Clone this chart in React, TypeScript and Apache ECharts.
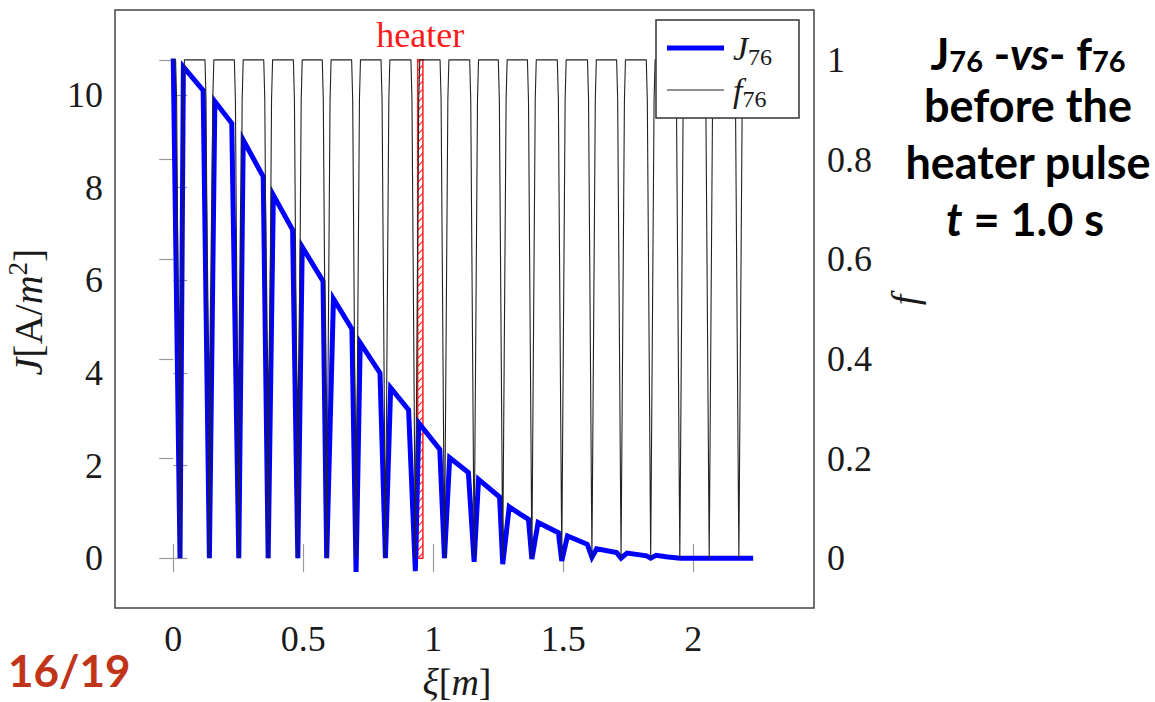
import React, { useEffect, useRef } from "react";
import * as echarts from "echarts";

// ---- data ----
const X_TICKS = [0, 0.5, 1, 1.5, 2];
const J_TICKS = [0, 2, 4, 6, 8, 10];
const F_TICKS = [0, 0.2, 0.4, 0.6, 0.8, 1];

const J_X = [
  0.0, 0.026, 0.039, 0.115, 0.139, 0.16, 0.225, 0.252, 0.269, 0.346, 0.365,
  0.385, 0.459, 0.479, 0.496, 0.576, 0.59, 0.616, 0.687, 0.703, 0.719, 0.795,
  0.816, 0.836, 0.905, 0.931, 0.944, 1.025, 1.043, 1.063, 1.135, 1.157, 1.174,
  1.255, 1.267, 1.292, 1.334, 1.366, 1.379, 1.403, 1.481, 1.494, 1.516, 1.592,
  1.61, 1.628, 1.705, 1.722, 1.745, 1.82, 1.836, 1.857, 1.895, 1.95, 2.23,
];
const J_Y = [
  10.79, 0.0, 10.61, 10.1, 0.0, 9.86, 9.39, 0.0, 9.03, 8.24, 0.0, 7.84, 7.09,
  0.0, 6.72, 5.98, 0.0, 5.6, 4.95, -0.3, 4.65, 4.0, 0.0, 3.68, 3.2, -0.28,
  2.92, 2.35, 0.0, 2.17, 1.85, -0.08, 1.7, 1.32, -0.13, 1.11, 0.95, 0.84,
  -0.02, 0.77, 0.55, -0.06, 0.48, 0.3, 0.02, 0.2, 0.12, 0.0, 0.11, 0.05, 0.0,
  0.06, 0.03, 0.0, 0.0,
];

const DIP_X = [
  0.026, 0.139, 0.252, 0.365, 0.479, 0.59, 0.703, 0.816, 0.931, 1.043, 1.157,
  1.267, 1.379, 1.494, 1.61, 1.722, 1.836, 1.948, 2.061, 2.175,
];
const F_DIP_DX = [-0.017, -0.013, 0, 0.013, 0.017];
const F_DIP_Y = [1, 0.92, 0, 0.92, 1];
const F_START: [number, number] = [0, 1];
const F_END: [number, number] = [2.23, 1];

const HEATER = [0.94, 0.96];

const SERIF = "Liberation Serif";
const SANS = "Lato";

function hatchCanvas() {
  const c = document.createElement("canvas");
  c.width = 8;
  c.height = 8;
  const ctx = c.getContext("2d");
  if (ctx) {
    ctx.strokeStyle = "#ff2020";
    ctx.lineWidth = 1.2;
    ctx.beginPath();
    ctx.moveTo(0, 8);
    ctx.lineTo(8, 0);
    ctx.stroke();
  }
  return c;
}

export default function App() {
  const ref = useRef<HTMLDivElement>(null);

  useEffect(() => {
    if (!ref.current) return;
    const chart = echarts.init(ref.current, null, { renderer: "svg" });

    const jData = J_X.map((x, i) => [x, J_Y[i]]);
    const fData: number[][] = [F_START];
    DIP_X.forEach((d) => {
      F_DIP_DX.forEach((dx, k) => fData.push([d + dx, F_DIP_Y[k]]));
    });
    fData.push(F_END);

    const tickStyle = { color: "#999", width: 1.2 };
    const labelStyle = {
      fontFamily: SERIF,
      fontSize: 36,
      color: "#1a1a1a",
    };

    const serifRich = (size: number) => ({
      i: { fontFamily: SERIF, fontStyle: "italic", fontSize: size, lineHeight: size + 8, fill: "#1a1a1a" },
      n: { fontFamily: SERIF, fontSize: size, lineHeight: size + 8, fill: "#1a1a1a" },
      p: { fontFamily: SERIF, fontSize: Math.round(size * 0.68), lineHeight: Math.round(size * 0.68), verticalAlign: "top", fill: "#1a1a1a" },
      s: { fontFamily: SERIF, fontSize: Math.round(size * 0.7), lineHeight: size + 8, verticalAlign: "bottom", fill: "#1a1a1a" },
    });

    const option: any = {
      animation: false,
      backgroundColor: "#fff",
      textStyle: { fontFamily: SERIF },
      grid: {
        left: 115,
        top: 10,
        width: 699,
        height: 598,
        show: true,
        borderColor: "#444",
        borderWidth: 1.5,
        backgroundColor: "transparent",
      },
      xAxis: [
        {
          type: "value",
          min: -0.224,
          max: 2.464,
          axisLine: { show: false },
          splitLine: { show: false },
          axisTick: {
            show: true,
            inside: true,
            length: 14,
            lineStyle: tickStyle,
            customValues: X_TICKS,
          },
          axisLabel: {
            ...labelStyle,
            margin: 13,
            customValues: X_TICKS,
            formatter: (v: number) => String(v),
          },
        },
        {
          type: "value",
          position: "top",
          min: -0.224,
          max: 2.464,
          axisLine: { show: false },
          splitLine: { show: false },
          axisTick: {
            show: true,
            inside: true,
            length: 14,
            lineStyle: tickStyle,
            customValues: X_TICKS,
          },
          axisLabel: { show: false },
        },
      ],
      yAxis: [
        {
          type: "value",
          min: -1.076,
          max: 11.836,
          axisLine: { show: false },
          splitLine: { show: false },
          axisTick: {
            show: true,
            inside: true,
            length: 14,
            lineStyle: tickStyle,
            customValues: J_TICKS,
          },
          axisLabel: {
            ...labelStyle,
            margin: 12,
            customValues: J_TICKS,
            formatter: (v: number) => String(v),
          },
        },
        {
          type: "value",
          position: "right",
          min: -0.1,
          max: 1.1,
          axisLine: { show: false },
          splitLine: { show: false },
          axisTick: {
            show: true,
            inside: true,
            length: 14,
            lineStyle: tickStyle,
            customValues: F_TICKS,
          },
          axisLabel: {
            ...labelStyle,
            margin: 13,
            customValues: F_TICKS,
            formatter: (v: number) => String(v),
          },
        },
      ],
      series: [
        {
          name: "J76",
          type: "line",
          xAxisIndex: 0,
          yAxisIndex: 0,
          data: jData,
          symbol: "none",
          lineStyle: { color: "#0000ff", width: 5, join: "miter" },
          itemStyle: { color: "#0000ff" },
          z: 2,
        },
        {
          name: "f76",
          type: "line",
          xAxisIndex: 0,
          yAxisIndex: 1,
          data: fData,
          symbol: "none",
          lineStyle: { color: "#222", width: 1.1 },
          itemStyle: { color: "#222" },
          z: 3,
          markArea: {
            silent: true,
            itemStyle: {
              color: { image: hatchCanvas(), repeat: "repeat" },
              borderColor: "#ff2020",
              borderWidth: 1.5,
            },
            label: {
              show: true,
              position: "top",
              distance: 6,
              formatter: "heater",
              fontFamily: SERIF,
              fontSize: 36,
              color: "#ff1a1a",
            },
            data: [
              [
                { xAxis: HEATER[0], yAxis: 0 },
                { xAxis: HEATER[1], yAxis: 1 },
              ],
            ],
          },
        },
      ],
      graphic: [
        // legend box
        {
          type: "rect",
          shape: { x: 656, y: 20, width: 143, height: 98 },
          style: { fill: "#fff", stroke: "#333", lineWidth: 1.5 },
          z: 100,
        },
        {
          type: "line",
          shape: { x1: 667, y1: 48, x2: 724, y2: 48 },
          style: { stroke: "#0000ff", lineWidth: 5 },
          z: 101,
        },
        {
          type: "line",
          shape: { x1: 667, y1: 90, x2: 724, y2: 90 },
          style: { stroke: "#222", lineWidth: 1.1 },
          z: 101,
        },
        {
          type: "text",
          x: 733,
          y: 48,
          z: 101,
          style: {
            text: "{i|J}{s|76}",
            align: "left",
            verticalAlign: "middle",
            fill: "#1a1a1a",
            rich: serifRich(34),
          },
        },
        {
          type: "text",
          x: 733,
          y: 90,
          z: 101,
          style: {
            text: "{i|f}{s|76}",
            align: "left",
            verticalAlign: "middle",
            fill: "#1a1a1a",
            rich: serifRich(34),
          },
        },
        // axis names
        {
          type: "text",
          x: 28,
          y: 312,
          rotation: Math.PI / 2,
          style: {
            text: "{i|J}{n|[A/}{i|m}{p|2}{n|]}",
            align: "center",
            verticalAlign: "middle",
            fill: "#1a1a1a",
            rich: serifRich(40),
          },
        },
        {
          type: "text",
          x: 905,
          y: 300,
          rotation: Math.PI / 2,
          style: {
            text: "f",
            align: "center",
            verticalAlign: "middle",
            font: `italic 38px ${SERIF}`,
            fill: "#1a1a1a",
          },
        },
        {
          type: "text",
          x: 457,
          y: 682,
          style: {
            text: "{i|ξ}{n|[}{i|m}{n|]}",
            align: "center",
            verticalAlign: "middle",
            fill: "#1a1a1a",
            rich: serifRich(38),
          },
        },
        // annotation
        {
          type: "text",
          x: 1028,
          y: 53,
          style: {
            text: "{b|J}{s|76}{b| -}{bi|vs}{b|- f}{s|76}",
            align: "center",
            verticalAlign: "middle",
            fill: "#000",
            rich: {
              b: { fontFamily: SANS, fontWeight: "bold", fontSize: 44, lineHeight: 44, fill: "#000" },
              bi: { fontFamily: SANS, fontWeight: "bold", fontStyle: "italic", fontSize: 44, lineHeight: 44, fill: "#000" },
              s: { fontFamily: SANS, fontWeight: "bold", fontSize: 29, lineHeight: 44, verticalAlign: "bottom", fill: "#000" },
            },
          },
        },
        {
          type: "text",
          x: 1028,
          y: 105,
          style: {
            text: "before the",
            align: "center",
            verticalAlign: "middle",
            font: `bold 45px ${SANS}`,
            fill: "#000",
          },
        },
        {
          type: "text",
          x: 1028,
          y: 162,
          style: {
            text: "heater pulse",
            align: "center",
            verticalAlign: "middle",
            font: `bold 45px ${SANS}`,
            fill: "#000",
          },
        },
        {
          type: "text",
          x: 1025,
          y: 219,
          style: {
            text: "{bi|t}{b| = 1.0 s}",
            align: "center",
            verticalAlign: "middle",
            fill: "#000",
            rich: {
              b: { fontFamily: SANS, fontWeight: "bold", fontSize: 45, fill: "#000" },
              bi: { fontFamily: SANS, fontWeight: "bold", fontStyle: "italic", fontSize: 45, fill: "#000" },
            },
          },
        },
        {
          type: "text",
          x: 8,
          y: 670,
          style: {
            text: "16/19",
            align: "left",
            verticalAlign: "middle",
            font: `bold 44px ${SANS}`,
            fill: "#c0341a",
          },
        },
      ],
    };

    chart.setOption(option);
    return () => chart.dispose();
  }, []);

  return (
    <div
      ref={ref}
      style={{ position: "fixed", left: 0, top: 0, width: 1155, height: 702 }}
    />
  );
}
